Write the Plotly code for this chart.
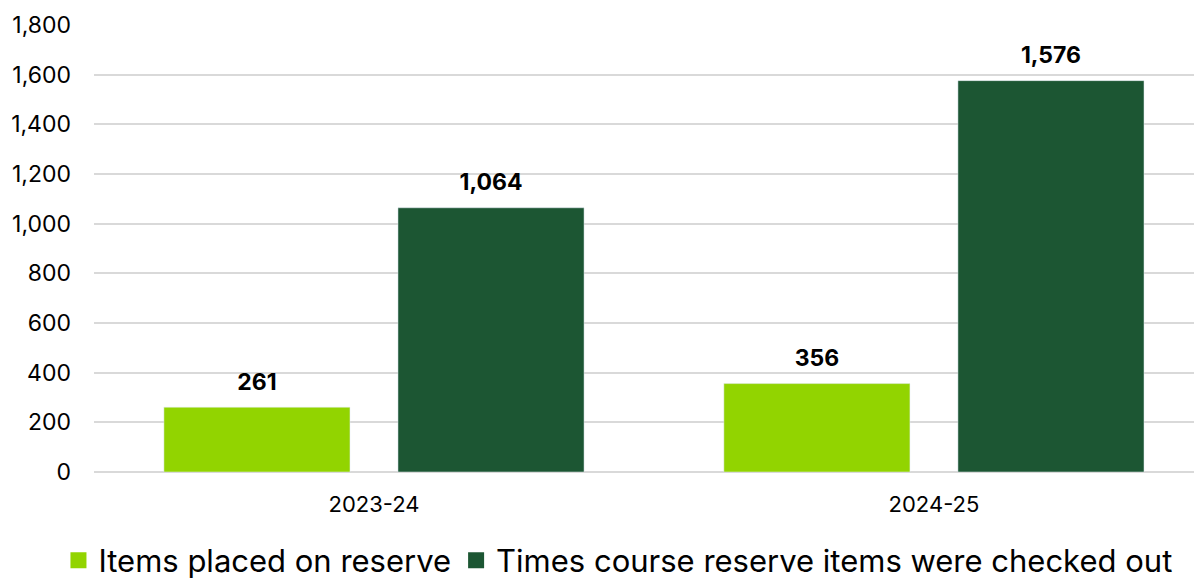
import plotly.graph_objects as go

categories = ["2023-24", "2024-25"]
items_placed = [261, 356]
times_checked = [1064, 1576]
series_names = ["Items placed on reserve", "Times course reserve items were checked out"]
y_ticks = [0, 200, 400, 600, 800, 1000, 1200, 1400, 1600, 1800]

light = "#92d400"
dark = "#1c5633"
FONT = "Inter"

fig = go.Figure()
for name, vals, col, grp in [(series_names[0], items_placed, light, "a"),
                             (series_names[1], times_checked, dark, "b")]:
    fig.add_trace(go.Bar(x=categories, y=vals, name=name, marker_color=col,
                         offsetgroup=grp, showlegend=False, hoverinfo="y"))
for name, vals, col, grp in [(series_names[0], items_placed, light, "a"),
                             (series_names[1], times_checked, dark, "b")]:
    fig.add_trace(go.Scatter(x=categories, y=vals, mode="markers+text", offsetgroup=grp,
                             marker=dict(size=17, opacity=0, color=col),
                             text=[f"<b>{v:,}</b>" for v in vals], textposition="top center",
                             textfont=dict(family=FONT, size=23, color="#000"),
                             showlegend=False, hoverinfo="skip", cliponaxis=False))
# legend entries
for name, col in [(series_names[0], light), (series_names[1], dark)]:
    fig.add_trace(go.Scatter(x=[None], y=[None], mode="markers", name=name,
                             marker=dict(symbol="square", size=18, color=col)))

fig.update_layout(
    width=1202, height=571,
    margin=dict(l=86, r=0, t=17, b=107, autoexpand=False),
    paper_bgcolor="white", plot_bgcolor="white",
    barmode="group", bargap=0.164, bargroupgap=0.205,
    scattermode="group", scattergap=0.164,
    font=dict(family=FONT, size=22, color="#000"),
    xaxis=dict(type="category", range=[-0.5, 1.493], showgrid=False, showline=False,
               ticks="", tickfont=dict(size=22), ticklabelstandoff=17, automargin=False),
    yaxis=dict(range=[0, 1800], tickvals=y_ticks, tickformat=",", showgrid=True,
               gridcolor="#d9d9d9", gridwidth=1.5, zeroline=True, zerolinecolor="#d9d9d9",
               zerolinewidth=1.5, showline=False, ticks="", tickfont=dict(size=23),
               ticklabelstandoff=22, automargin=False),
    legend=dict(orientation="h", x=0.4695, xanchor="center", y=-0.138, yanchor="top",
                font=dict(family=FONT, size=31), itemsizing="trace"),
)

fig.write_html("out.html")
